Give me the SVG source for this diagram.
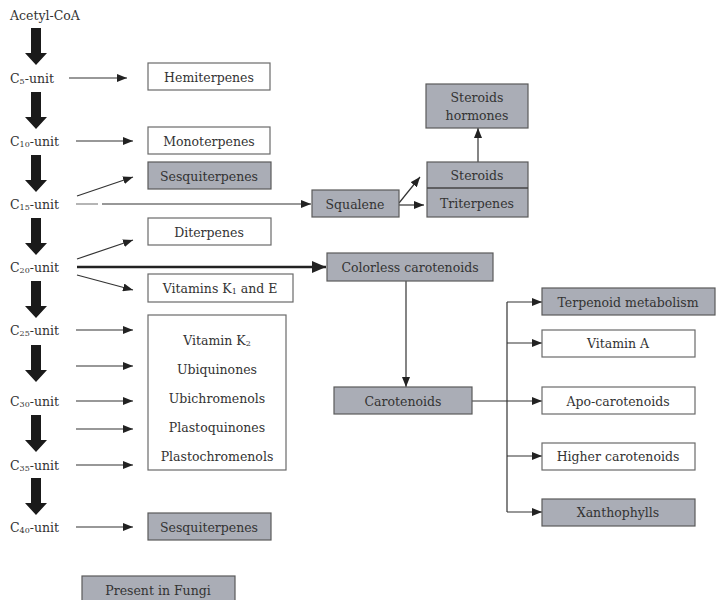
<svg xmlns="http://www.w3.org/2000/svg" width="716" height="600" viewBox="0 0 716 600">
<style>
text,tspan{font-family:"DejaVu Serif","Liberation Serif",serif;fill:#333}
text{font-size:12.5px}
.c{text-anchor:middle;dominant-baseline:central}
.l{dominant-baseline:central}
.g{fill:#aaadb6;stroke:#5a5a5a;stroke-width:1.2}
.w{fill:#fff;stroke:#6a6a6a;stroke-width:1.2}
.ln{stroke:#333;stroke-width:1.2;fill:none}
.thick{fill:#1a1a1a}
</style>
<defs>
<marker id="ah" viewBox="0 0 10 8" refX="10" refY="4" markerWidth="10" markerHeight="8" markerUnits="userSpaceOnUse" orient="auto">
<path d="M0,0 L10,4 L0,8 Z" fill="#222"/>
</marker>
<marker id="ahb" viewBox="0 0 14 12" refX="14" refY="6" markerWidth="14" markerHeight="12" markerUnits="userSpaceOnUse" orient="auto">
<path d="M0,0 L14,6 L0,12 Z" fill="#222"/>
</marker>
<polygon id="ta" points="-5,0 5,0 5,25 11,25 0,37 -11,25 -5,25"/>
</defs>

<g id="left-labels">
<text x="10" y="15" class="l">Acetyl-CoA</text>
<text x="10" y="78" class="l">C<tspan font-size="8" dy="3">5</tspan><tspan dy="-3">-unit</tspan></text>
<text x="10" y="141" class="l">C<tspan font-size="8" dy="3">10</tspan><tspan dy="-3">-unit</tspan></text>
<text x="10" y="204" class="l">C<tspan font-size="8" dy="3">15</tspan><tspan dy="-3">-unit</tspan></text>
<text x="10" y="267" class="l">C<tspan font-size="8" dy="3">20</tspan><tspan dy="-3">-unit</tspan></text>
<text x="10" y="330" class="l">C<tspan font-size="8" dy="3">25</tspan><tspan dy="-3">-unit</tspan></text>
<text x="10" y="401" class="l">C<tspan font-size="8" dy="3">30</tspan><tspan dy="-3">-unit</tspan></text>
<text x="10" y="465" class="l">C<tspan font-size="8" dy="3">35</tspan><tspan dy="-3">-unit</tspan></text>
<text x="10" y="527" class="l">C<tspan font-size="8" dy="3">40</tspan><tspan dy="-3">-unit</tspan></text>
</g>

<g id="connectors">
<g class="thick">
<use href="#ta" x="36" y="28"/>
<use href="#ta" x="36" y="92"/>
<use href="#ta" x="36" y="155"/>
<use href="#ta" x="36" y="218"/>
<use href="#ta" x="36" y="281"/>
<use href="#ta" x="36" y="345"/>
<use href="#ta" x="36" y="415"/>
<use href="#ta" x="36" y="478"/>
</g>
<line class="ln" x1="69" y1="78" x2="127" y2="78" marker-end="url(#ah)"/>
<line class="ln" x1="76" y1="141" x2="133" y2="141" marker-end="url(#ah)"/>
<line class="ln" x1="77" y1="196" x2="133" y2="177" marker-end="url(#ah)"/>
<line class="ln" x1="76" y1="204" x2="98" y2="204" stroke-opacity="0.6"/>
<line class="ln" x1="102" y1="204" x2="311" y2="204" marker-end="url(#ah)"/>
<line class="ln" x1="77" y1="259" x2="133" y2="240" marker-end="url(#ah)"/>
<line x1="77" y1="267" x2="326" y2="267" stroke="#222" stroke-width="2.6" marker-end="url(#ahb)"/>
<line class="ln" x1="77" y1="275" x2="133" y2="290" marker-end="url(#ah)"/>
<line class="ln" x1="76" y1="330" x2="133" y2="330" marker-end="url(#ah)"/>
<line class="ln" x1="76" y1="366" x2="133" y2="366" marker-end="url(#ah)"/>
<line class="ln" x1="76" y1="401" x2="133" y2="401" marker-end="url(#ah)"/>
<line class="ln" x1="76" y1="429" x2="133" y2="429" marker-end="url(#ah)"/>
<line class="ln" x1="76" y1="465" x2="133" y2="465" marker-end="url(#ah)"/>
<line class="ln" x1="76" y1="527" x2="133" y2="527" marker-end="url(#ah)"/>
<line class="ln" x1="399" y1="203" x2="420" y2="177" marker-end="url(#ah)"/>
<line class="ln" x1="399" y1="205" x2="424" y2="205" marker-end="url(#ah)"/>
<line class="ln" x1="478" y1="162" x2="478" y2="128" marker-end="url(#ah)"/>
<line class="ln" x1="406" y1="281" x2="406" y2="387" marker-end="url(#ah)"/>
<line class="ln" x1="472" y1="401" x2="542" y2="401" marker-end="url(#ah)"/>
<line class="ln" x1="507" y1="302" x2="507" y2="512"/>
<line class="ln" x1="507" y1="302" x2="542" y2="302" marker-end="url(#ah)"/>
<line class="ln" x1="507" y1="343" x2="542" y2="343" marker-end="url(#ah)"/>
<line class="ln" x1="507" y1="456" x2="542" y2="456" marker-end="url(#ah)"/>
<line class="ln" x1="507" y1="512" x2="542" y2="512" marker-end="url(#ah)"/>
</g>

<g id="hemiterpenes"><rect class="w" x="148" y="63" width="122" height="27"/><text class="c" x="209" y="77">Hemiterpenes</text></g>
<g id="monoterpenes"><rect class="w" x="148" y="127" width="122" height="27"/><text class="c" x="209" y="141">Monoterpenes</text></g>
<g id="sesquiterpenes"><rect class="g" x="148" y="162" width="123" height="27"/><text class="c" x="209" y="176">Sesquiterpenes</text></g>
<g id="diterpenes"><rect class="w" x="148" y="218" width="123" height="27"/><text class="c" x="209" y="232">Diterpenes</text></g>
<g id="vitamins-k1-e"><rect class="w" x="148" y="274" width="145" height="28"/><text class="c" x="220" y="288">Vitamins K<tspan font-size="8" dy="3">1</tspan><tspan dy="-3"> and E</tspan></text></g>
<g id="quinones"><rect class="w" x="148" y="315" width="138" height="155"/>
<text class="c" x="217" y="340">Vitamin K<tspan font-size="8" dy="3">2</tspan></text>
<text class="c" x="217" y="369">Ubiquinones</text>
<text class="c" x="217" y="398">Ubichromenols</text>
<text class="c" x="217" y="427">Plastoquinones</text>
<text class="c" x="217" y="456">Plastochromenols</text>
</g>
<g id="sesquiterpenes-2"><rect class="g" x="148" y="513" width="123" height="27"/><text class="c" x="209" y="527">Sesquiterpenes</text></g>
<g id="present-in-fungi"><rect class="g" x="82" y="576" width="153" height="28"/><text class="c" x="158" y="590">Present in Fungi</text></g>

<g id="squalene"><rect class="g" x="312" y="190" width="87" height="27"/><text class="c" x="355" y="204">Squalene</text></g>
<g id="steroids-triterpenes"><rect class="g" x="427" y="162" width="101" height="55"/><line x1="427" y1="188" x2="528" y2="188" stroke="#444" stroke-width="1.5"/>
<text class="c" x="477" y="175">Steroids</text><text class="c" x="477" y="203">Triterpenes</text></g>
<g id="steroid-hormones"><rect class="g" x="426" y="84" width="102" height="44"/>
<text class="c" x="477" y="97">Steroids</text><text class="c" x="477" y="115">hormones</text></g>
<g id="colorless-carotenoids"><rect class="g" x="327" y="253" width="166" height="28"/><text class="c" x="410" y="267">Colorless carotenoids</text></g>
<g id="carotenoids"><rect class="g" x="334" y="387" width="138" height="27"/><text class="c" x="403" y="401">Carotenoids</text></g>
<g id="terpenoid-metabolism"><rect class="g" x="542" y="288" width="173" height="27"/><text class="c" x="628" y="302">Terpenoid metabolism</text></g>
<g id="vitamin-a"><rect class="w" x="542" y="330" width="153" height="27"/><text class="c" x="618" y="343">Vitamin A</text></g>
<g id="apo-carotenoids"><rect class="w" x="542" y="387" width="153" height="27"/><text class="c" x="618" y="401">Apo-carotenoids</text></g>
<g id="higher-carotenoids"><rect class="w" x="542" y="443" width="153" height="27"/><text class="c" x="618" y="456">Higher carotenoids</text></g>
<g id="xanthophylls"><rect class="g" x="542" y="499" width="153" height="27"/><text class="c" x="618" y="512">Xanthophylls</text></g>
</svg>
